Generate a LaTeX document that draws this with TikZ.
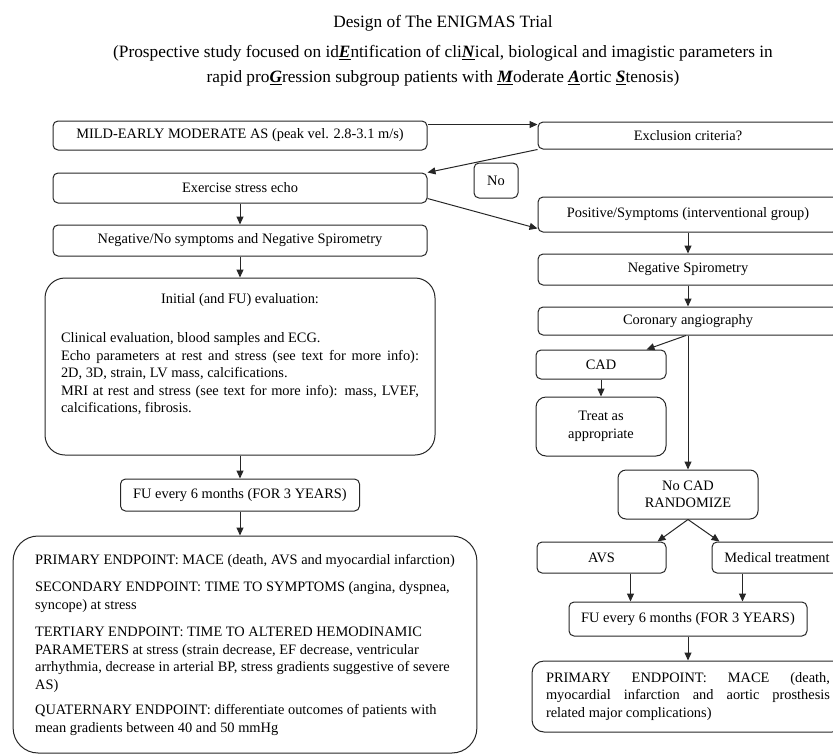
\documentclass[tikz,border=0pt]{standalone}
\usepackage{fontspec}
\setmainfont{Liberation Serif}
\usetikzlibrary{arrows.meta, positioning}
\hyphenpenalty=10000
\tolerance=9999
\hbadness=10000
\newcommand{\keyltr}[1]{\underline{\textbf{\textit{#1}}}}

\begin{document}
\begin{tikzpicture}[
  x=1pt, y=-1pt,
  font=\fontsize{14.4}{17.5}\selectfont,
  box/.style={rectangle, draw=black!85, line width=1pt, rounded corners=5pt, align=center, inner sep=3pt},
  bigbox/.style={box, rounded corners=22pt},
  arrow/.style={-{Triangle[length=8pt, width=7pt]}, line width=1pt, draw=black!85}
  ]
\useasboundingbox (0,0) rectangle (833,753);
\clip (0,0) rectangle (833,753);

\node[font=\fontsize{17.3}{25}\selectfont] (title) at (443,23) {Design of The ENIGMAS Trial};
\node[align=center, font=\fontsize{17.3}{25}\selectfont] (aim) at (443,66) {
  (Prospective study focused on id\keyltr{E}ntification of cli\keyltr{N}ical, biological and imagistic parameters in \\
  rapid pro\keyltr{G}ression subgroup patients with \keyltr{M}oderate \keyltr{A}ortic \keyltr{S}tenosis)
};

% left column
\node[box, minimum width=374pt, minimum height=29pt] (mild) at (240,135.5) {MILD-EARLY MODERATE AS (peak vel. 2.8-3.1 m/s)};

\node[box, minimum width=374pt, minimum height=30pt, below=22pt of mild] (echo) {Exercise stress echo};

\node[box, minimum width=374pt, minimum height=31pt, below=21pt of echo] (negsym) {Negative/No symptoms and Negative Spirometry};

\node[bigbox, rounded corners=20pt, text width=358pt, inner xsep=16pt, minimum height=177pt, align=justify, below=21pt of negsym] (init) {
  \parindent=0pt
  {\centering Initial (and FU) evaluation:\par}
  \vspace{21.5pt}
  Clinical evaluation, blood samples and ECG.\par
  Echo parameters at rest and stress (see text for more info):\linebreak 2D, 3D, strain, LV mass, calcifications.\par
  MRI at rest and stress (see text for more info): mass, LVEF,\linebreak calcifications, fibrosis.\par
  \vspace{24pt}\hrule height 0pt
};

\node[box, minimum width=239pt, minimum height=32pt, below=23pt of init] (fuleft) {FU every 6 months (FOR 3 YEARS)};

\node[bigbox, rounded corners=25pt, align=left, inner xsep=22pt, minimum height=217pt, below=24pt of fuleft, xshift=5pt] (ends) {
  PRIMARY ENDPOINT: MACE (death, AVS and myocardial infarction) \\[10pt]
  SECONDARY ENDPOINT: TIME TO SYMPTOMS (angina, dyspnea, \\
  syncope) at stress \\[10pt]
  TERTIARY ENDPOINT: TIME TO ALTERED HEMODINAMIC \\
  PARAMETERS at stress (strain decrease, EF decrease, ventricular \\
  arrhythmia, decrease in arterial BP, stress gradients suggestive of severe \\
  AS) \\[8pt]
  QUATERNARY ENDPOINT: differentiate outcomes of patients with \\
  mean gradients between 40 and 50 mmHg
};

% right column
\node[box, minimum width=300pt, minimum height=27pt, right=110pt of mild] (excl) {Exclusion criteria?};

\node[box, minimum width=44pt, minimum height=35pt, below right=12pt and 46pt of mild.south east] (no) {No};

\node[box, minimum width=300pt, minimum height=35pt, below=47pt of excl] (pos) {Positive/Symptoms (interventional group)};

\node[box, minimum width=300pt, minimum height=31pt, below=21pt of pos] (negspiro) {Negative Spirometry};

\node[box, minimum width=300pt, minimum height=28pt, below=21pt of negspiro] (angio) {Coronary angiography};

\node[box, minimum width=130pt, minimum height=29pt, below=14pt of angio.south west, anchor=north west, xshift=-2pt] (cad) {CAD};

\node[box, rounded corners=10pt, minimum width=130pt, minimum height=59pt, below=17pt of cad] (treat) {Treat as\\appropriate};

\node[box, rounded corners=8pt, minimum width=140pt, minimum height=49pt, below=134pt of angio] (nocad) {No CAD\\RANDOMIZE};

\node[box, minimum width=129pt, minimum height=31pt, below=22pt of nocad, xshift=-86.5pt] (avs) {AVS};

\node[box, minimum width=130pt, minimum height=31pt, below=22pt of nocad, xshift=89pt] (medtx) {Medical treatment};

\node[box, minimum width=238pt, minimum height=34pt, below=82pt of nocad] (furight) {FU every 6 months (FOR 3 YEARS)};

\node[box, rounded corners=12pt, text width=284pt, inner xsep=14pt, minimum height=71pt, align=justify, below=24pt of furight] (primary) {
  PRIMARY ENDPOINT: MACE (death,\linebreak myocardial infarction and aortic prosthesis\linebreak related major complications)
};

\draw[arrow] ([yshift=-4pt]mild.north east) -- ([yshift=-4pt]mild.north east -| excl.west);
\draw[arrow] (excl.south west) -- (echo.north east);
\draw[arrow] ([yshift=5pt]echo.south east) -- ([yshift=4pt]pos.south west);
\draw[arrow] (echo) -- (negsym);
\draw[arrow] (negsym) -- (init);
\draw[arrow] (init) -- (fuleft);
\draw[arrow] (fuleft.south) -- (fuleft.south |- ends.north);
\draw[arrow] (pos) -- (negspiro);
\draw[arrow] (negspiro) -- (angio);
\draw[arrow] ([xshift=-2pt]angio.south) -- ([xshift=-20pt]cad.north east);
\draw[arrow] (cad) -- (treat);
\draw[arrow] (angio) -- (nocad);
\draw[arrow] (nocad.south) -- ([xshift=-9pt]avs.north east);
\draw[arrow] (nocad.south) -- ([xshift=8pt]medtx.north west);
\draw[arrow] ([xshift=-36pt]avs.south east) -- ([xshift=-36pt]avs.south east |- furight.north);
\draw[arrow] ([xshift=31pt]medtx.south west) -- ([xshift=31pt]medtx.south west |- furight.north);
\draw[arrow] (furight) -- (primary);

\end{tikzpicture}
\end{document}
